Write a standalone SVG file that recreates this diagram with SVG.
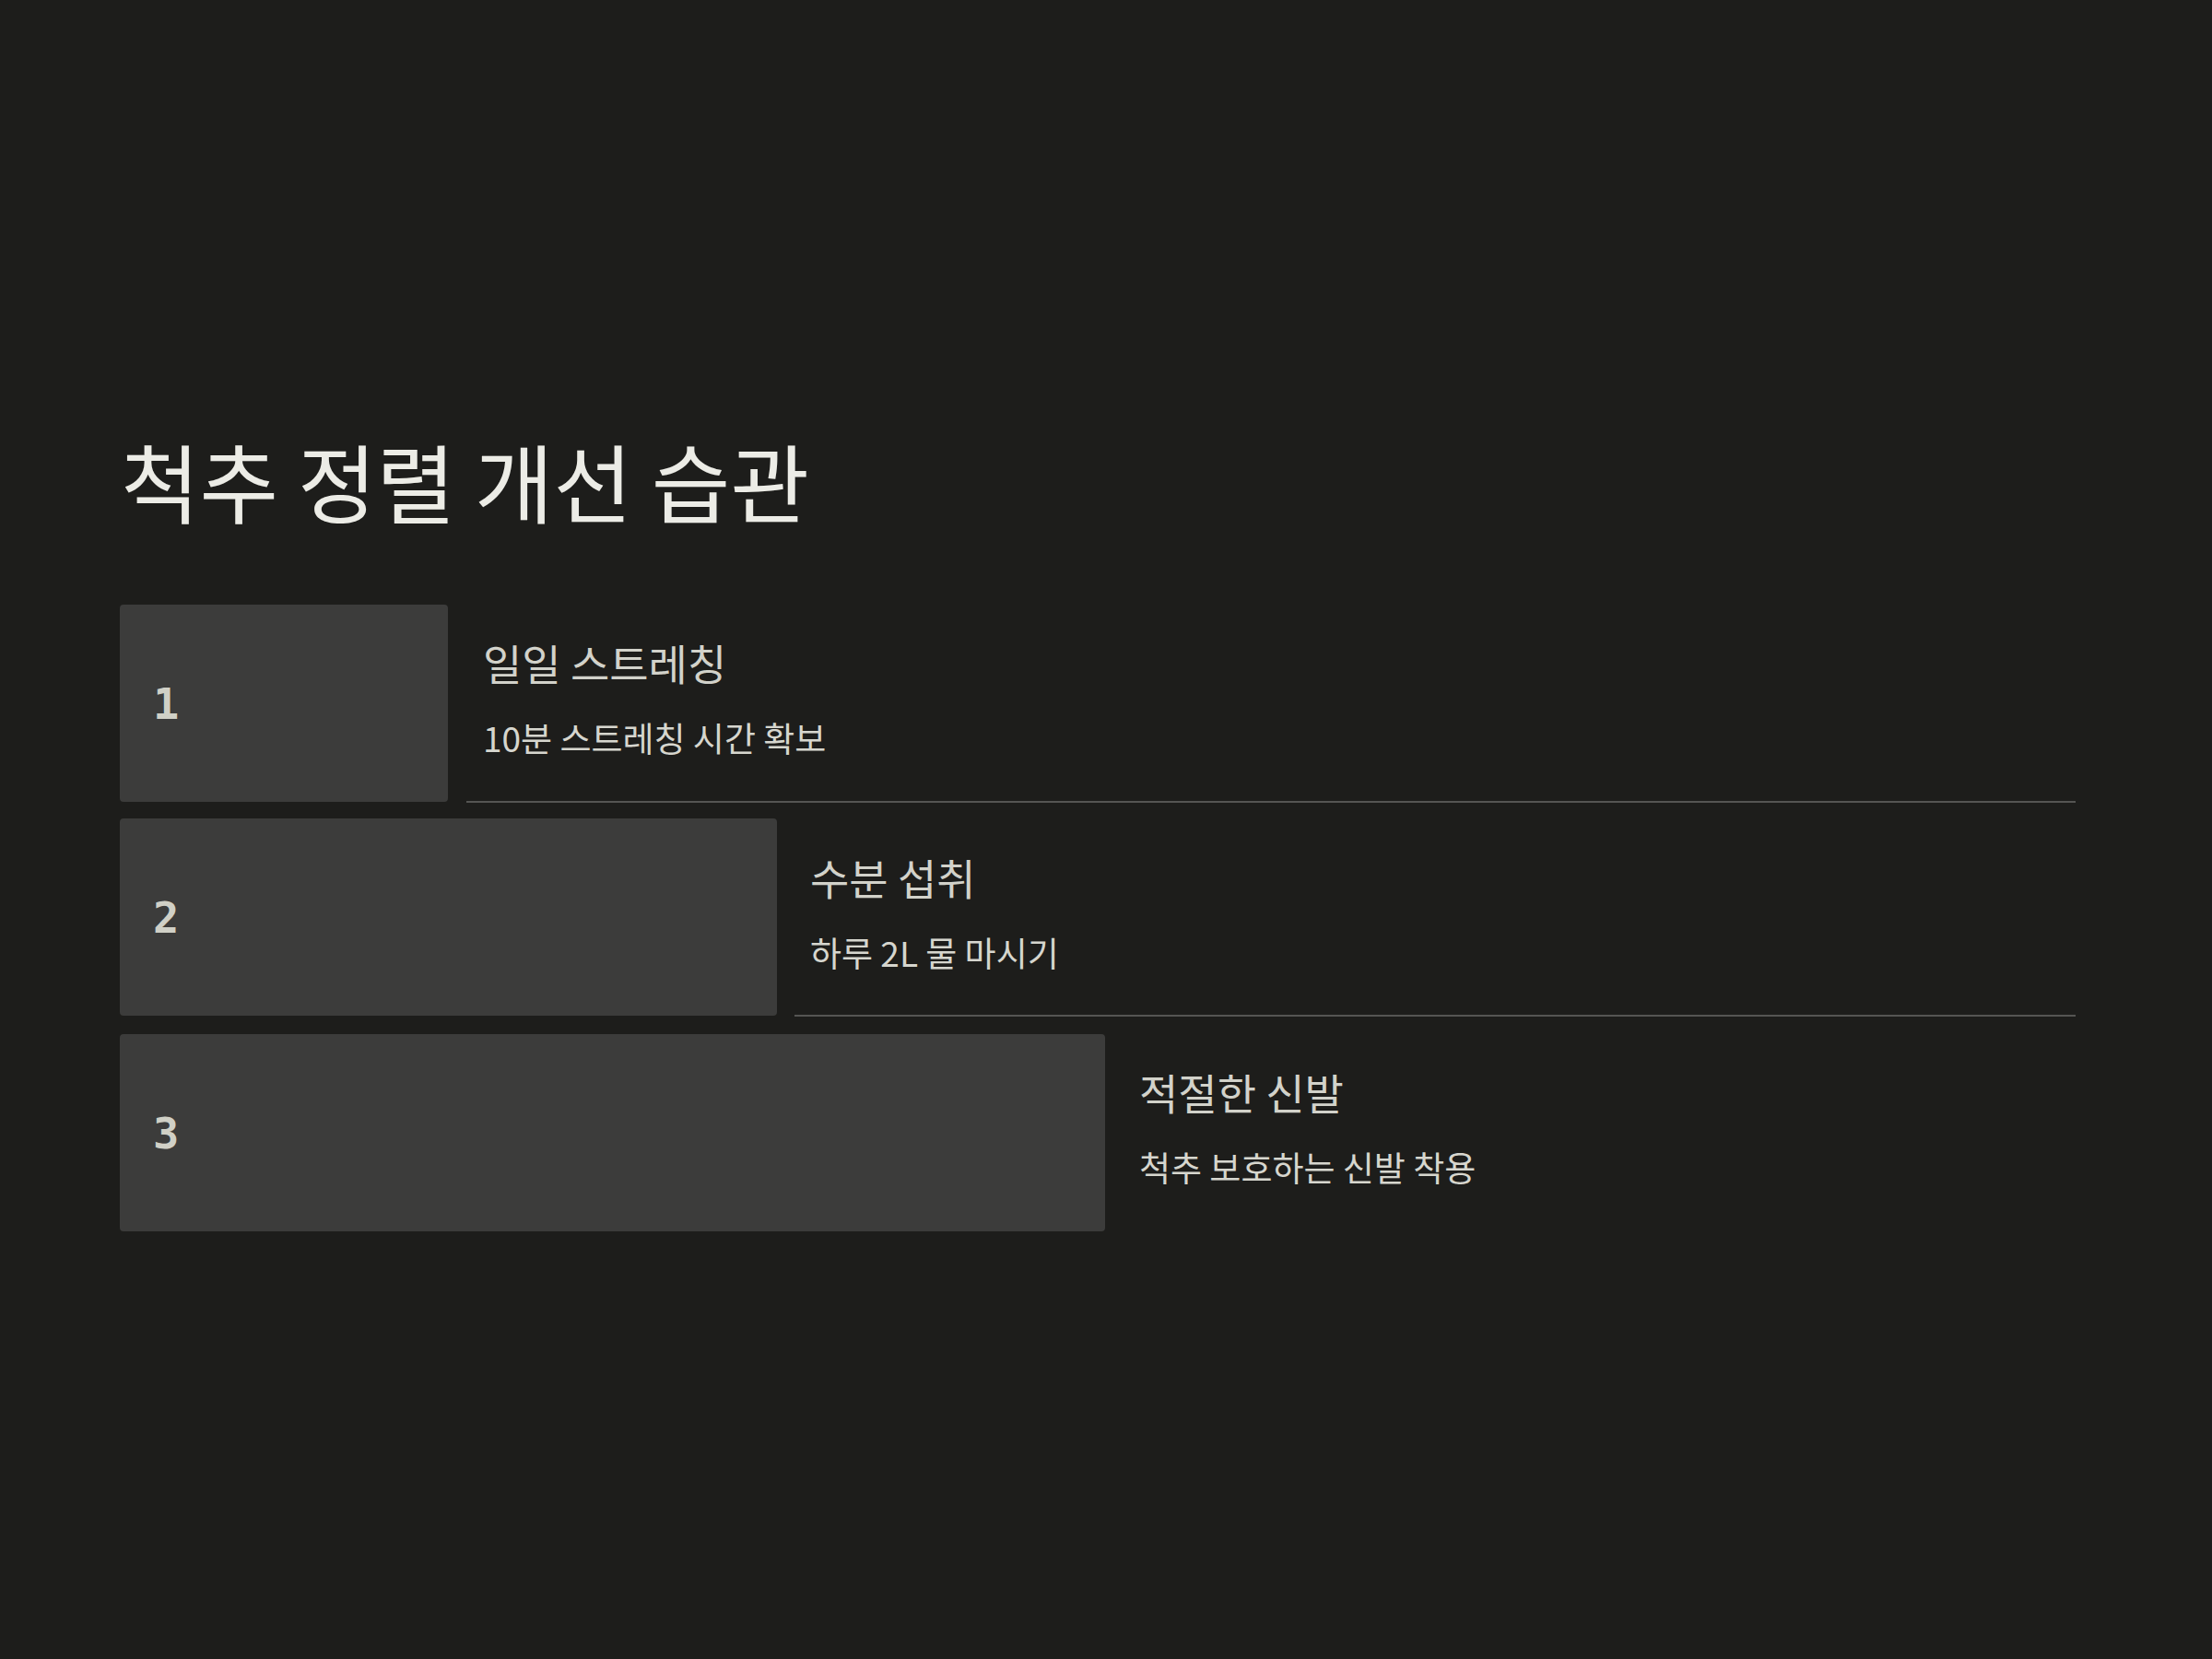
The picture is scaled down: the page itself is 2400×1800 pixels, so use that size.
<svg xmlns="http://www.w3.org/2000/svg" width="2400" height="1800" viewBox="0 0 2400 1800">
<style>
.bg{fill:#1d1d1b}
.box{fill:#3c3c3b}
.title{font-family:"Noto Sans CJK KR","Noto Sans",sans-serif;font-size:93px;fill:#ecece6}
.head{font-family:"Noto Sans CJK KR","Noto Sans",sans-serif;font-size:46px;fill:#d2d2ca}
.sub{font-family:"Noto Sans CJK KR","Noto Sans",sans-serif;font-size:37px;fill:#d6d6ce}
.num{font-family:"DejaVu Sans Mono","Liberation Mono",monospace;font-weight:bold;font-size:47px;fill:#d0d0c6}
.sep{stroke:#555553;stroke-width:2}
</style>
<rect class="bg" x="0" y="0" width="2400" height="1800"/>
<text class="title" x="131" y="561">척추 정렬 개선 습관</text>
<g id="connectors">
<line class="sep" x1="506" y1="870" x2="2252" y2="870"/>
<line class="sep" x1="862" y1="1102" x2="2252" y2="1102"/>
</g>
<g id="step1">
<rect class="box" x="130" y="656" width="356" height="214" rx="4"/>
<text class="num" x="166" y="780">1</text>
<text class="head" x="524" y="738">일일 스트레칭</text>
<text class="sub" x="524" y="816">10분 스트레칭 시간 확보</text>
</g>
<g id="step2">
<rect class="box" x="130" y="888" width="713" height="214" rx="4"/>
<text class="num" x="166" y="1012">2</text>
<text class="head" x="879" y="971">수분 섭취</text>
<text class="sub" x="879" y="1049">하루 2L 물 마시기</text>
</g>
<g id="step3">
<rect class="box" x="130" y="1122" width="1069" height="214" rx="4"/>
<text class="num" x="166" y="1246">3</text>
<text class="head" x="1236" y="1204">적절한 신발</text>
<text class="sub" x="1236" y="1282">척추 보호하는 신발 착용</text>
</g>
</svg>
